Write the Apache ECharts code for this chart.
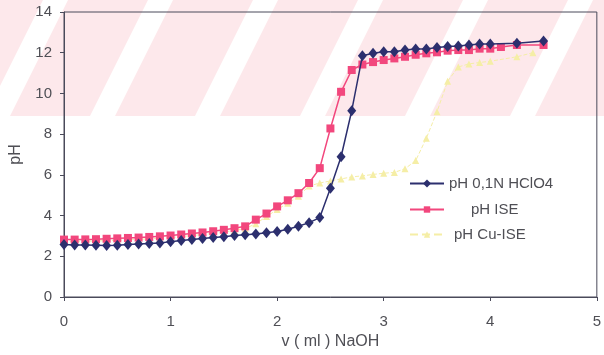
<!DOCTYPE html>
<html><head><meta charset="utf-8">
<script src="https://cdn.jsdelivr.net/npm/echarts@6/dist/echarts.min.js"></script>
<style>html,body{margin:0;padding:0;background:#fff}#c{width:604px;height:355px}</style>
</head><body><div id="c"></div>
<script>
var xTicks = [0, 1, 2, 3, 4, 5];
var yTicks = [0, 2, 4, 6, 8, 10, 12, 14];
var seriesNames = ['pH 0,1N HClO4', 'pH ISE', 'pH Cu-ISE'];

var hclo4X = [0,0.1,0.2,0.3,0.4,0.5,0.6,0.7,0.8,0.9,1.0,1.1,1.2,1.3,1.4,1.5,1.6,1.7,1.8,1.9,2.0,2.1,2.2,2.3,2.4,2.5,2.6,2.7,2.8,2.9,3.0,3.1,3.2,3.3,3.4,3.5,3.6,3.7,3.8,3.9,4.0,4.25,4.5];
var hclo4Y = [2.58,2.56,2.55,2.54,2.53,2.54,2.58,2.6,2.63,2.65,2.72,2.77,2.82,2.87,2.92,2.96,3.02,3.06,3.1,3.16,3.22,3.33,3.48,3.65,3.9,5.34,6.89,9.15,11.85,11.97,12.05,12.05,12.13,12.18,12.18,12.26,12.31,12.33,12.38,12.43,12.43,12.46,12.57];

var iseX = [0,0.1,0.2,0.3,0.4,0.5,0.6,0.7,0.8,0.9,1.0,1.1,1.2,1.3,1.4,1.5,1.6,1.7,1.8,1.9,2.0,2.1,2.2,2.3,2.4,2.5,2.6,2.7,2.8,2.9,3.0,3.1,3.2,3.3,3.4,3.5,3.6,3.7,3.8,3.9,4.0,4.1,4.25,4.5];
var iseY = [2.82,2.82,2.83,2.84,2.86,2.88,2.9,2.92,2.95,2.98,3.02,3.07,3.12,3.17,3.23,3.3,3.38,3.47,3.8,4.1,4.45,4.75,5.1,5.6,6.33,8.28,10.08,11.15,11.42,11.54,11.64,11.72,11.8,11.9,11.97,12.02,12.1,12.13,12.13,12.2,12.2,12.28,12.38,12.38];

var cuX = [0,0.1,0.2,0.3,0.4,0.5,0.6,0.7,0.8,0.9,1.0,1.1,1.2,1.3,1.4,1.5,1.6,1.7,1.8,1.9,2.0,2.1,2.2,2.3,2.4,2.5,2.6,2.7,2.8,2.9,3.0,3.1,3.2,3.3,3.4,3.5,3.6,3.7,3.8,3.9,4.0,4.25,4.4];
var cuY = [2.72,2.73,2.74,2.75,2.77,2.79,2.81,2.83,2.86,2.89,2.92,2.97,3.02,3.07,3.12,3.19,3.27,3.36,3.6,3.95,4.3,4.6,4.95,5.45,5.6,5.7,5.8,5.9,5.95,6.02,6.08,6.12,6.3,6.7,7.8,9.1,10.6,11.3,11.45,11.52,11.58,11.8,12.0];

function pairs(xs, ys) { return xs.map(function (x, i) { return [x, ys[i]]; }); }

var NAVY = '#2c2f6e', PINK = '#f2477d', YEL = '#f5eea6';

// background scan stripes (decoration)
var stripes = [{type:'rect', shape:{x:0,y:0,width:604,height:116}, style:{fill:'#fde8eb'}, z:-10, silent:true}];
for (var k = 0; k < 8; k++) {
  var b = -15 + 105 * k;
  stripes.push({type:'polygon', shape:{points:[[b,116],[b+25,116],[b+25+58,0],[b+58,0]]}, style:{fill:'#ffffff'}, z:-9, silent:true});
}

var chart = echarts.init(document.getElementById('c'), null, {renderer:'canvas'});
var FONT = 'Liberation Sans, Arial, sans-serif';
function ts(size, extra) { return Object.assign({color:'#4f4f55', fontFamily:FONT, fontSize:size}, extra || {}); }
chart.setOption({
  animation: false,
  backgroundColor: '#ffffff',
  graphic: stripes,
  grid: {left:63, right:2, top:12, bottom:58, show:true, borderColor:'#4a4a5a', borderWidth:1, backgroundColor:'transparent'},
  xAxis: {
    type:'value', min:xTicks[0], max:xTicks[xTicks.length-1], interval:1,
    name:'v ( ml ) NaOH', nameLocation:'middle', nameGap:37,
    nameTextStyle: ts(16),
    axisLine:{lineStyle:{color:'#4a4a5a', width:1}},
    axisTick:{show:true, inside:false, length:4, lineStyle:{color:'#4a4a5a'}},
    axisLabel: ts(15, {margin:17}),
    splitLine:{show:false}
  },
  yAxis: {
    type:'value', min:yTicks[0], max:yTicks[yTicks.length-1], interval:2,
    name:'pH', nameLocation:'middle', nameGap:40, nameRotate:90,
    nameTextStyle: ts(16),
    axisLine:{show:true, lineStyle:{color:'#4a4a5a', width:1}},
    axisTick:{show:true, inside:false, length:4, lineStyle:{color:'#4a4a5a'}},
    axisLabel: ts(15, {margin:12}),
    splitLine:{show:false}
  },
  legend: [
    {data:[{name:seriesNames[0]}], left:404, top:171, orient:'vertical', itemWidth:34, itemHeight:10, textStyle:ts(15, {padding:[0,0,0,0]})},
    {data:[{name:seriesNames[1]}], left:404, top:197, orient:'vertical', itemWidth:34, itemHeight:8, textStyle:ts(15, {padding:[0,0,0,22]})},
    {data:[{name:seriesNames[2]}], left:404, top:222, orient:'vertical', itemWidth:34, itemHeight:8, textStyle:ts(15, {padding:[0,0,0,5]})}
  ],
  series: [
    {name:seriesNames[2], type:'line', data:pairs(cuX, cuY), symbol:'triangle', symbolSize:7,
     itemStyle:{color:YEL}, lineStyle:{color:YEL, width:1, type:'dashed'}, z:3},
    {name:seriesNames[1], type:'line', data:pairs(iseX, iseY), symbol:'rect', symbolSize:8,
     itemStyle:{color:PINK}, lineStyle:{color:PINK, width:1.5}, z:4},
    {name:seriesNames[0], type:'line', data:pairs(hclo4X, hclo4Y), symbol:'diamond', symbolSize:[9,11],
     itemStyle:{color:NAVY}, lineStyle:{color:NAVY, width:1.5}, z:5}
  ]
});
</script></body></html>
